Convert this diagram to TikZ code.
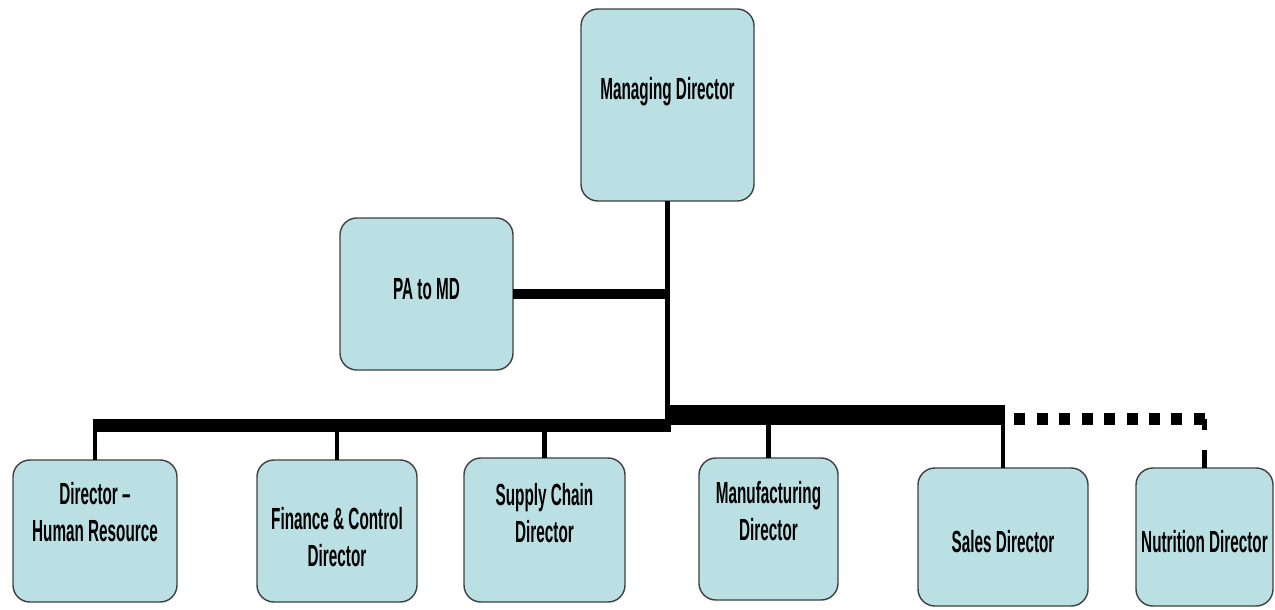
\documentclass[tikz,border=0pt]{standalone}
\usepackage{fontspec}
\newfontfamily\orgfont{Liberation Sans}[FakeStretch=0.5]
\def\pxu{0.02cm}
\definecolor{boxfill}{RGB}{186,224,228}
\definecolor{boxline}{RGB}{64,64,64}
\tikzset{
	orgbox/.style={rectangle, rounded corners=9.6pt, draw=boxline, line width=0.8pt, fill=boxfill, inner sep=0pt, outer sep=0pt},
	orgtext/.style={anchor=north, inner sep=0pt, align=center, font=\orgfont\bfseries\fontsize{17.4}{21}\selectfont},
	trunk/.style={line width=2.8pt},
	drop/.style={line width=2.8pt},
	palink/.style={line width=6.2pt},
	busleft/.style={line width=7.4pt, shorten <=-1.4pt},
	busright/.style={line width=11.3pt, shorten >=-1.4pt},
	dotlink/.style={line width=6.8pt, dash pattern=on 6.24pt off 6.52pt, dash phase=6.24pt},
	dotdrop/.style={line width=2.8pt, dash pattern=on 6.24pt off 11.3pt on 11.3pt off 1pt}
}

\begin{document}
\begin{tikzpicture}[x=0.02cm, y=-0.02cm]
		\useasboundingbox (0,0) rectangle (1275,609);
		
		% Caixas
		\node[orgbox, minimum width=173*\pxu, minimum height=192*\pxu] (md) at (667.5,105) {};
		\node[orgbox, minimum width=173*\pxu, minimum height=152*\pxu] (pa) at (426.5,294) {};
		\node[orgbox, minimum width=164*\pxu, minimum height=142*\pxu] (hr) at (95,531) {};
		\node[orgbox, minimum width=160*\pxu, minimum height=142*\pxu] (fc) at (337,531) {};
		\node[orgbox, minimum width=161*\pxu, minimum height=144*\pxu] (sc) at (544.5,530) {};
		\node[orgbox, minimum width=139*\pxu, minimum height=142*\pxu] (mf) at (768.5,529) {};
		\node[orgbox, minimum width=170*\pxu, minimum height=138*\pxu] (sa) at (1003,537) {};
		\node[orgbox, minimum width=137*\pxu, minimum height=138*\pxu] (nu) at (1204.5,537) {};
		
		% Textos
		\node[orgtext] (mdT) at (667.5,77) {Managing Director};
		\node[orgtext] (paT) at (426.5,278) {PA to MD};
		\node[orgtext] (hrT) at (95,482) {Director –\\Human Resource};
		\node[orgtext] (fcT) at (337,507) {Finance \& Control\\Director};
		\node[orgtext] (scT) at (544.5,483) {Supply Chain\\Director};
		\node[orgtext] (mfT) at (768.5,481) {Manufacturing\\Director};
		\node[orgtext] (saT) at (1003,530) {Sales Director};
		\node[orgtext] (nuT) at (1204.5,530) {Nutrition Director};
		
		% Pontos das barras
		\coordinate (jL) at (670.5,425.5);
		\coordinate (jR) at (665.5,415);
		\coordinate (jB) at (668,432);
		\coordinate (dotY) at (668,419);
		
		% Ligacoes
		\draw[trunk] (md.south) -- (md.south |- jB);
		\draw[palink] (pa.east) -- (pa.east -| md.south);
		\draw[busleft] (hr.north |- jL) -- (jL);
		\draw[busright] (jR) -- (sa.north |- jR);
		\draw[drop] (hr.north) -- (hr.north |- jL);
		\draw[drop] (fc.north) -- (fc.north |- jL);
		\draw[drop] (sc.north) -- (sc.north |- jL);
		\draw[drop] (mf.north) -- (mf.north |- jR);
		\draw[drop] (sa.north) -- (sa.north |- jR);
		\draw[dotlink] (sa.north |- dotY) -- (nu.north |- dotY);
		\draw[dotdrop] (nu.north |- dotY) -- (nu.north);
		
	\end{tikzpicture}
\end{document}
